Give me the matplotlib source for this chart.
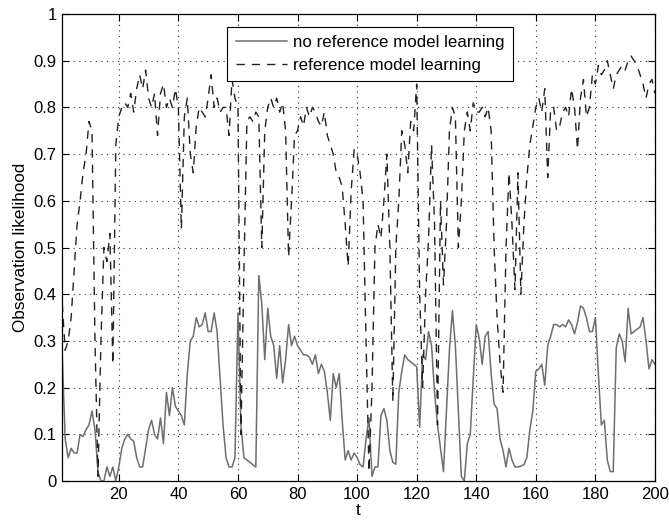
import matplotlib
matplotlib.use("Agg")
import matplotlib.pyplot as plt
import numpy as np

t = list(range(1, 201))

no_ref = [
    0.27, 0.09, 0.05, 0.07, 0.06, 0.06, 0.10, 0.095, 0.11, 0.12,
    0.15, 0.11, 0.02, 0.0, 0.0, 0.03, 0.01, 0.03, 0.0, 0.03,
    0.07, 0.09, 0.10, 0.09, 0.085, 0.05, 0.03, 0.03, 0.07, 0.11,
    0.13, 0.10, 0.09, 0.135, 0.08, 0.19, 0.14, 0.20, 0.16, 0.15,
    0.14, 0.12, 0.23, 0.30, 0.31, 0.35, 0.33, 0.335, 0.36, 0.32,
    0.32, 0.36, 0.32, 0.22, 0.12, 0.05, 0.03, 0.03, 0.05, 0.36,
    0.12, 0.05, 0.045, 0.04, 0.035, 0.03, 0.44, 0.38, 0.26, 0.37,
    0.31, 0.29, 0.22, 0.29, 0.21, 0.26, 0.335, 0.29, 0.31, 0.29,
    0.28, 0.27, 0.27, 0.265, 0.25, 0.27, 0.23, 0.25, 0.235, 0.19,
    0.13, 0.23, 0.20, 0.23, 0.13, 0.045, 0.065, 0.045, 0.06, 0.05,
    0.035, 0.03, 0.09, 0.135, 0.01, 0.03, 0.03, 0.14, 0.155, 0.13,
    0.065, 0.04, 0.036, 0.19, 0.235, 0.27, 0.26, 0.255, 0.25, 0.245,
    0.115, 0.27, 0.26, 0.32, 0.29, 0.19, 0.12, 0.07, 0.02, 0.15,
    0.28, 0.365, 0.29, 0.15, 0.01, 0.0, 0.08, 0.10, 0.22, 0.335,
    0.305, 0.25, 0.31, 0.32, 0.23, 0.165, 0.155, 0.09, 0.065, 0.03,
    0.07, 0.045, 0.03, 0.03, 0.032, 0.035, 0.05, 0.11, 0.15, 0.235,
    0.24, 0.25, 0.205, 0.29, 0.31, 0.335, 0.335, 0.33, 0.335, 0.33,
    0.345, 0.335, 0.315, 0.34, 0.375, 0.37, 0.35, 0.32, 0.32, 0.35,
    0.23, 0.12, 0.13, 0.045, 0.02, 0.02, 0.285, 0.315, 0.30, 0.255,
    0.37, 0.315, 0.32, 0.325, 0.33, 0.35, 0.30, 0.24, 0.26, 0.25,
]

with_ref = [
    0.38, 0.28, 0.30, 0.35, 0.45, 0.55, 0.60, 0.66, 0.70, 0.77,
    0.75, 0.30, 0.01, 0.30, 0.50, 0.47, 0.53, 0.25, 0.72, 0.78,
    0.80, 0.81, 0.80, 0.83, 0.79, 0.84, 0.87, 0.84, 0.88, 0.82,
    0.80, 0.83, 0.74, 0.83, 0.85, 0.80, 0.82, 0.80, 0.84, 0.80,
    0.54, 0.78, 0.82, 0.70, 0.66, 0.76, 0.80, 0.79, 0.78, 0.82,
    0.87, 0.80, 0.82, 0.79, 0.80, 0.80, 0.74, 0.86, 0.82, 0.80,
    0.10, 0.45, 0.77, 0.78, 0.77, 0.79, 0.78, 0.50, 0.75, 0.80,
    0.82, 0.80, 0.82, 0.79, 0.81, 0.75, 0.48, 0.60, 0.74, 0.75,
    0.78, 0.76, 0.80, 0.78, 0.80, 0.79, 0.77, 0.76, 0.79, 0.74,
    0.72, 0.70, 0.66, 0.65, 0.63, 0.55, 0.46, 0.62, 0.71, 0.70,
    0.66, 0.60, 0.30, 0.02, 0.20, 0.50, 0.55, 0.52, 0.60, 0.70,
    0.50, 0.17, 0.50, 0.60, 0.75, 0.72, 0.66, 0.77, 0.75, 0.85,
    0.40, 0.20, 0.40, 0.52, 0.72, 0.55, 0.12, 0.60, 0.42, 0.55,
    0.75, 0.80, 0.78, 0.50, 0.60, 0.75, 0.79, 0.75, 0.81, 0.79,
    0.79, 0.80, 0.78, 0.80, 0.75, 0.50, 0.35, 0.25, 0.19, 0.50,
    0.66, 0.55, 0.41, 0.66, 0.40, 0.55, 0.65, 0.72, 0.76, 0.80,
    0.82, 0.79, 0.84, 0.65, 0.80, 0.80, 0.75, 0.76, 0.79, 0.80,
    0.78, 0.84, 0.80, 0.71, 0.82, 0.86, 0.78, 0.80, 0.87, 0.85,
    0.89, 0.87, 0.88, 0.90, 0.87, 0.84, 0.87, 0.88, 0.89, 0.88,
    0.90, 0.91, 0.90, 0.89, 0.87, 0.85, 0.82, 0.85, 0.86, 0.83,
]

x_ticks = [20, 40, 60, 80, 100, 120, 140, 160, 180, 200]
y_ticks = [0, 0.1, 0.2, 0.3, 0.4, 0.5, 0.6, 0.7, 0.8, 0.9, 1]
y_tick_labels = ["0", "0.1", "0.2", "0.3", "0.4", "0.5", "0.6", "0.7", "0.8", "0.9", "1"]

plt.rcParams['font.family'] = ['Liberation Sans', 'DejaVu Sans']

fig = plt.figure(figsize=(6.69, 5.2), dpi=100)
ax = fig.add_axes([0.093, 0.075, 0.886, 0.898])

ax.plot(t, no_ref, color='#6e6e6e', lw=1.1, ls='-', label='no reference model learning')
ax.plot(t, with_ref, color='#222222', lw=1.0, ls=(0, (6, 5)), label='reference model learning')

ax.set_xlim(1, 200)
ax.set_ylim(0, 1)
ax.set_xticks(x_ticks)
ax.set_yticks(y_ticks)
ax.set_yticklabels(y_tick_labels)
ax.tick_params(direction='in', top=True, right=True, labelsize=12, length=5, width=0.8, pad=4)
ax.grid(True, ls=(0, (1, 4)), color='#333333', lw=0.8)
for s in ax.spines.values():
    s.set_linewidth(0.9)

ax.set_xlabel('t', fontsize=12.3, labelpad=1)
ax.set_ylabel('Observation likelihood', fontsize=12.3, labelpad=4)

leg = ax.legend(loc='upper center', bbox_to_anchor=(0.520, 0.973), fontsize=12.2,
                fancybox=False, framealpha=1, edgecolor='black', handlelength=3.0,
                handletextpad=0.4, borderpad=0.5, labelspacing=0.45, borderaxespad=0)
leg.get_frame().set_linewidth(0.8)

fig.savefig('out.png', dpi=100)
